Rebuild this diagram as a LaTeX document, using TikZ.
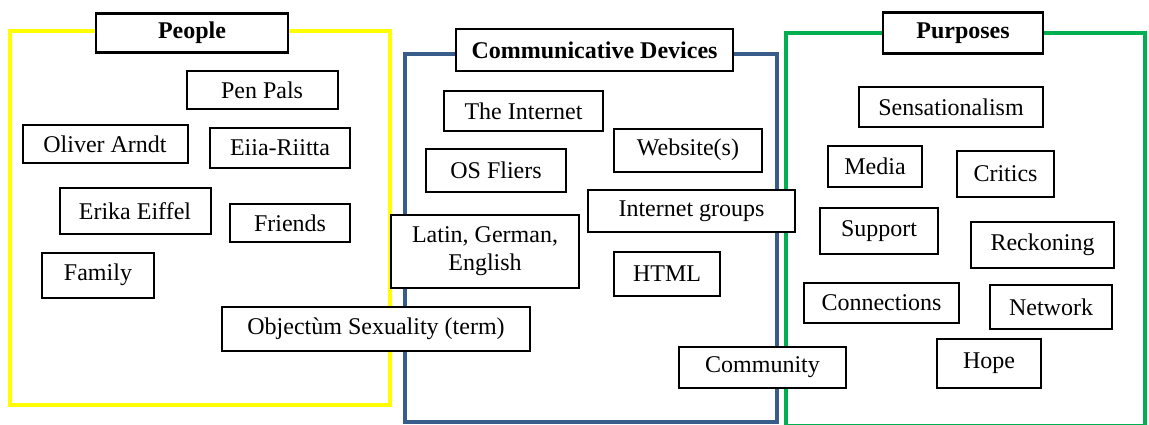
\documentclass[tikz,border=0pt]{standalone}
\usepackage{fontspec}
\setmainfont{Liberation Serif}
\usetikzlibrary{positioning}

\definecolor{peopleyellow}{RGB}{255,255,0}
\definecolor{deviceblue}{RGB}{56,93,138}
\definecolor{purposegreen}{RGB}{0,176,80}

\tikzset{
  item/.style={draw, fill=white, line width=1pt, inner sep=1pt,
    font=\fontsize{12}{14}\selectfont},
  title/.style={item, line width=1.2pt, font=\fontsize{12}{14}\selectfont\bfseries},
  frame/.style={line width=2pt},
  sz/.style 2 args={minimum width=#1*0.5pt, minimum height=#2*0.5pt},
}

\begin{document}
\begin{tikzpicture}[x=0.5pt, y=-0.5pt]
    \useasboundingbox (0,0) rectangle (1149,424);

    % Frames
    \draw[frame, peopleyellow] (10,31) rectangle (390,405);
    \draw[frame, deviceblue] (405,54) rectangle (777,422);
    \draw[frame, purposegreen] (786,33) rectangle (1145,426);

    % Titles
    \node[title, sz={192}{39}] (people) at (192,33) {People};
    \node[title, sz={277}{42}] (devices) at (594.5,50) {Communicative Devices};
    \node[title, sz={160}{41}] (purposes) at (963,33) {Purposes};

    % People
    \node[item, sz={151}{38}] (penpals) at (262,90) {Pen Pals};
    \node[item, sz={165}{38}] (oliver) at (105,144) {Oliver Arndt};
    \node[item, sz={140}{40}] (eija) at (280,148) {Eiia-Riitta};
    \node[item, sz={151}{46}] (erika) at (135,211) {Erika Eiffel};
    \node[item, sz={120}{38}] (friends) at (290,223) {Friends};
    \node[item, sz={112}{45}] (family) at (98,275) {Family};
    \node[item, sz={308}{44}] (os) at (376,329) {Objectùm Sexuality (term)};

    % Communicative Devices
    \node[item, sz={159}{40}] (internet) at (523.5,111) {The Internet};
    \node[item, sz={148}{43}] (website) at (688,150) {Website(s)};
    \node[item, sz={140}{43}] (fliers) at (496,170) {OS Fliers};
    \node[item, sz={207}{42}] (groups) at (691.5,211) {Internet groups};
    \node[item, sz={188}{73}, align=center] (langs) at (485,251) {Latin, German,\\English};
    \node[item, sz={106}{44}] (html) at (667,274) {HTML};
    \node[item, sz={167}{41}] (community) at (762.5,367.5) {Community};

    % Purposes
    \node[item, sz={184}{40}] (sensation) at (951,107) {Sensationalism};
    \node[item, sz={94}{41}] (media) at (875,166.5) {Media};
    \node[item, sz={97}{46}] (critics) at (1005.5,174) {Critics};
    \node[item, sz={118}{46}] (support) at (879,231) {Support};
    \node[item, sz={143}{46}] (reckoning) at (1042.5,245) {Reckoning};
    \node[item, sz={155}{40}] (connections) at (881.5,303) {Connections};
    \node[item, sz={122}{44}] (network) at (1051,307) {Network};
    \node[item, sz={104}{49}] (hope) at (989,363.5) {Hope};
\end{tikzpicture}
\end{document}
